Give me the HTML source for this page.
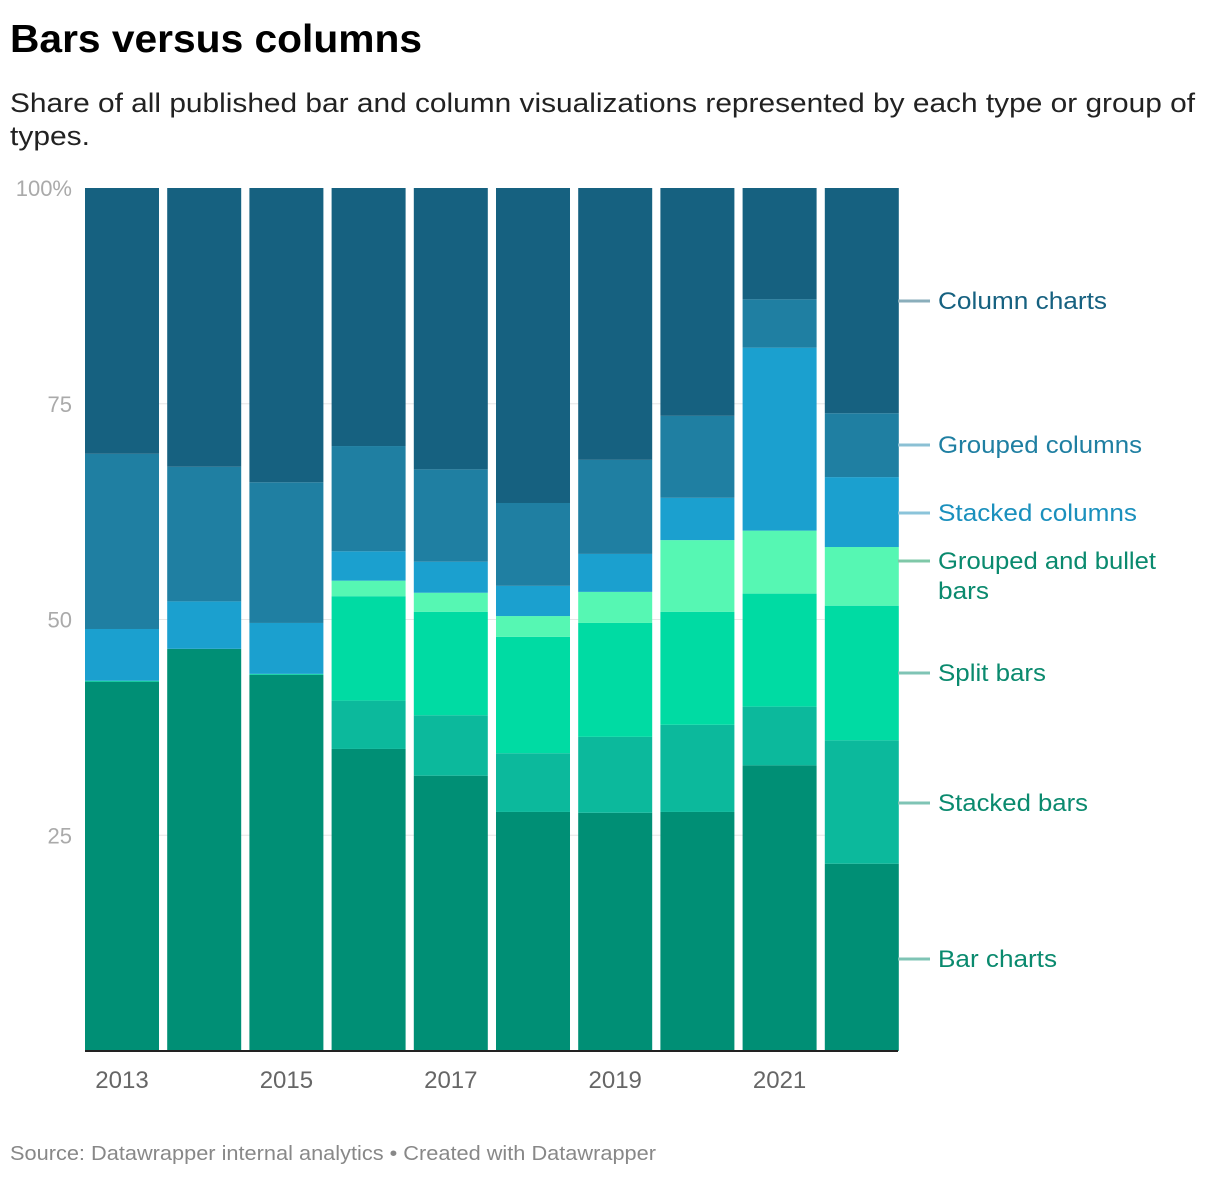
<!DOCTYPE html>
<html><head><meta charset="utf-8"><style>
body{margin:0;background:#fff;font-family:"Liberation Sans",sans-serif;}
svg text{font-family:"Liberation Sans",sans-serif;}
</style></head><body>
<svg width="1220" height="1176" xmlns="http://www.w3.org/2000/svg" id="chart">
<text x="10" y="52" font-size="39" font-weight="bold" fill="#000" textLength="412" lengthAdjust="spacingAndGlyphs">Bars versus columns</text>
<text x="10" y="112" font-size="27" fill="#222" textLength="1185" lengthAdjust="spacingAndGlyphs">Share of all published bar and column visualizations represented by each type or group of</text>
<text x="10" y="145" font-size="27" fill="#222" textLength="80" lengthAdjust="spacingAndGlyphs">types.</text>
<g id="grid"></g>
<g id="bars"></g>
<g id="axes"></g>
<g id="legend"></g>
<text x="10" y="1160" font-size="20" fill="#888" textLength="646" lengthAdjust="spacingAndGlyphs">Source: Datawrapper internal analytics • Created with Datawrapper</text>
</svg>
<script>
const years = [2013,2014,2015,2016,2017,2018,2019,2020,2021,2022];
const barCharts =      [42.8,46.6,43.6,35.0,31.9,27.7,27.6,27.7,33.1,21.7];
const stackedBars =    [0,0,0,5.6,7.0,6.8,8.8,10.1,6.8,14.3];
const splitBars =      [0.1,0,0.1,12.1,12.0,13.5,13.2,13.1,13.1,15.6];
const groupedBars =    [0,0,0,1.8,2.2,2.4,3.6,8.3,7.3,6.8];
const stackedColumns = [6.0,5.5,5.9,3.4,3.6,3.5,4.4,4.9,21.2,8.1];
const groupedColumns = [20.3,15.6,16.3,12.2,10.7,9.6,10.9,9.5,5.6,7.4];
const columnCharts =   [30.8,32.3,34.1,29.9,32.6,36.5,31.5,26.4,12.9,26.1];
const yTicks = [0,25,50,75,100];
const yTickLabels = ["","25","50","75","100%"];
const xTickLabels = ["2013","","2015","","2017","","2019","","2021",""];
const seriesNames = ["Bar charts","Stacked bars","Split bars","Grouped and bullet bars","Stacked columns","Grouped columns","Column charts"];
const seriesValues = [barCharts,stackedBars,splitBars,groupedBars,stackedColumns,groupedColumns,columnCharts];
const colors = ["#008f75","#0cb99c","#00dba3","#56f7b3","#1ba0cf","#1f7fa2","#166180"];
const labelColors = ["#0a8a6e","#0a8a6e","#0a8a6e","#0a8a6e","#1a90bd","#1f7fa2","#166180"];
const lineColors = ["#7fc4b5","#7fc4b5","#7fc4b5","#7fc8a8","#8bc4da","#8bc0d4","#8aaebb"];
const labelWidths = [119,150,108,218,199,204,169];

const NS="http://www.w3.org/2000/svg";
const x0=85, step=82.2, bw=74, yTop=188, yBot=1051;
const yScale=v=>yBot-(v/100)*(yBot-yTop);
const xScale=i=>x0+i*step;
function mk(tag,attrs,parent){const e=document.createElementNS(NS,tag);for(const k in attrs)e.setAttribute(k,attrs[k]);parent.appendChild(e);return e;}
const grid=document.getElementById('grid'),bars=document.getElementById('bars'),axes=document.getElementById('axes'),legend=document.getElementById('legend');
yTicks.forEach((t,i)=>{
  if(t>0&&t<100){const l=mk('line',{x1:x0,x2:898,y1:yScale(t),y2:yScale(t),stroke:'#e6e6e6','stroke-width':1},grid);
  
  }
  if(yTickLabels[i]){const tx=mk('text',{x:72,y:yScale(t)+8,'font-size':22,fill:'#aaa','text-anchor':'end'},axes);
  tx.textContent=yTickLabels[i];
  
  }
});
years.forEach((y,i)=>{
  let cum=0;
  seriesValues.forEach((s,k)=>{
    const v=s[i]; if(v<=0){return;}
    const top=yScale(cum+v), bot=yScale(cum);
    const r=mk('rect',{x:xScale(i),y:top,width:bw,height:bot-top,fill:colors[k]},bars);
    
    
    cum+=v;
  });
  if(xTickLabels[i]){const tx=mk('text',{x:xScale(i)+bw/2,y:1088,'font-size':24,fill:'#666','text-anchor':'middle'},axes);
  tx.textContent=xTickLabels[i];
  
  }
});
const base=mk('line',{x1:x0,x2:898,y1:yBot,y2:yBot,stroke:'#222','stroke-width':2},axes);


const labelY=[959,803,673,561,513,445,301];
seriesNames.forEach((n,k)=>{
  const ly=labelY[k];
  const l=mk('line',{x1:898,x2:930,y1:ly,y2:ly,stroke:lineColors[k],'stroke-width':3},legend);
  
  
  const t=mk('text',{x:938,y:ly+8,'font-size':24,fill:labelColors[k]},legend);
  
  
  if(n==="Grouped and bullet bars"){
    const a=mk('tspan',{x:938,dy:0,textLength:218,lengthAdjust:'spacingAndGlyphs'},t);a.textContent="Grouped and bullet";
    const b=mk('tspan',{x:938,dy:30,textLength:51,lengthAdjust:'spacingAndGlyphs'},t);b.textContent="bars";
  } else {t.textContent=n;t.setAttribute('textLength',labelWidths[k]);t.setAttribute('lengthAdjust','spacingAndGlyphs');}
});
</script>
</body></html>
